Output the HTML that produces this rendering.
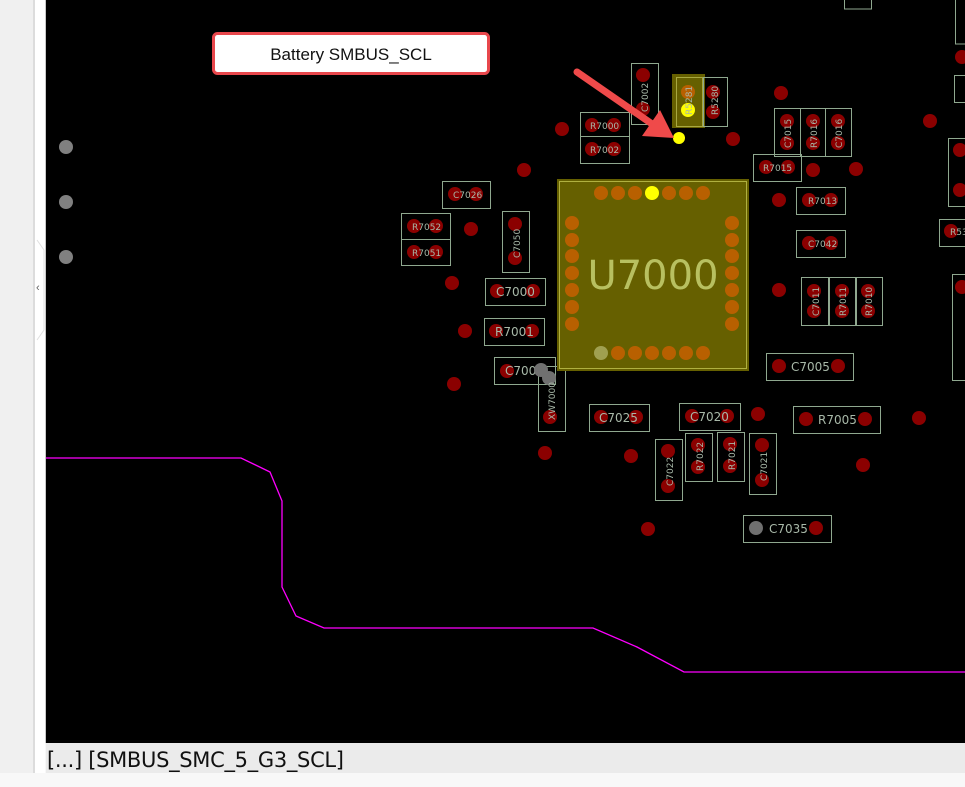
<!DOCTYPE html>
<html><head><meta charset="utf-8"><style>
html,body{margin:0;padding:0;width:965px;height:787px;overflow:hidden;background:#f8f8f8;font-family:"Liberation Sans",sans-serif}
svg{position:absolute;left:0;top:0}
.b{fill:none;stroke:#8fa88f;stroke-width:1}
.p{fill:#8b0000}
.o{fill:#b86000}
.t{fill:#a8b8a8;font-family:"DejaVu Sans","Liberation Sans",sans-serif;font-size:12px}
.s{fill:#a8b8a8;font-family:"DejaVu Sans","Liberation Sans",sans-serif;font-size:9px}
</style></head><body>
<svg width="965" height="787" viewBox="0 0 965 787">
<rect x="0" y="0" width="33" height="773" fill="#f0f0f0"/>
<rect x="33" y="0" width="2" height="773" fill="#dcdcdc"/>
<rect x="35" y="0" width="10" height="773" fill="#fff"/>
<rect x="45" y="0" width="1" height="743" fill="#c8c8c8"/>
<polyline points="37,240 44,250 44,330 37,340" fill="none" stroke="#e0e0e0"/>
<text x="36" y="291" font-size="11" fill="#606060">‹</text>
<rect x="46" y="0" width="919" height="743" fill="#000"/>
<rect x="46" y="743" width="919" height="30" fill="#ebebeb"/>
<rect x="0" y="773" width="965" height="14" fill="#f8f8f8"/>
<text x="47" y="767" font-size="21" fill="#111" font-family="'DejaVu Sans','Liberation Sans',sans-serif" textLength="297">[...] [SMBUS_SMC_5_G3_SCL]</text>

<polyline points="46,458 241,458 270,472 282,501 282,587 296,616 324,628 593,628 637,647 684,672 965,672" fill="none" stroke="#ff00ff" stroke-width="1.3"/>

<g fill="#808080"><circle cx="66" cy="147" r="7"/><circle cx="66" cy="202" r="7"/><circle cx="66" cy="257" r="7"/></g>

<g class="p">
<circle cx="562" cy="129" r="7"/><circle cx="733" cy="139" r="7"/><circle cx="781" cy="93" r="7"/><circle cx="524" cy="170" r="7"/>
<circle cx="471" cy="229" r="7"/><circle cx="452" cy="283" r="7"/><circle cx="465" cy="331" r="7"/><circle cx="454" cy="384" r="7"/>
<circle cx="545" cy="453" r="7"/><circle cx="631" cy="456" r="7"/><circle cx="648" cy="529" r="7"/><circle cx="758" cy="414" r="7"/>
<circle cx="863" cy="465" r="7"/><circle cx="919" cy="418" r="7"/><circle cx="856" cy="169" r="7"/><circle cx="779" cy="200" r="7"/>
<circle cx="779" cy="290" r="7"/><circle cx="930" cy="121" r="7"/><circle cx="813" cy="170" r="7"/><circle cx="960" cy="150" r="7"/><circle cx="960" cy="190" r="7"/><circle cx="962" cy="57" r="7"/>
</g>

<rect class="b" x="844.5" y="-1" width="27" height="10"/>
<rect class="b" x="955.5" y="-1" width="12" height="45"/>
<rect class="b" x="954.5" y="75.5" width="12" height="27"/>
<rect class="b" x="948.5" y="138.5" width="18" height="68"/>
<rect class="b" x="939.5" y="219.5" width="28" height="27"/><circle class="p" cx="951" cy="231" r="7"/><text class="s" x="950" y="235">R53</text>
<rect class="b" x="952.5" y="274.5" width="14" height="106"/><circle class="p" cx="962" cy="287" r="7"/>

<rect class="b" x="631.5" y="63.5" width="27" height="61"/><circle class="p" cx="643" cy="75" r="7"/><circle class="p" cx="643" cy="109" r="7"/>
<text class="s" transform="translate(648,112) rotate(-90)">C7002</text>
<rect x="672" y="74" width="33" height="54" fill="#666000"/><rect x="676.5" y="77.5" width="26" height="49" fill="none" stroke="#a8a840"/>
<circle class="o" cx="688" cy="92" r="7"/><circle cx="688" cy="110" r="7" fill="#ffff00"/>
<text class="s" transform="translate(692,115) rotate(-90)" fill="#c8c880">R5281</text>
<rect class="b" x="703.5" y="77.5" width="24" height="49"/><circle class="p" cx="713" cy="92" r="7"/><circle class="p" cx="713" cy="112" r="7"/>
<text class="s" transform="translate(718,115) rotate(-90)">R5280</text>

<rect class="b" x="580.5" y="112.5" width="49" height="24"/><circle class="p" cx="592" cy="125" r="7"/><circle class="p" cx="614" cy="125" r="7"/><text class="s" x="590" y="129">R7000</text>
<rect class="b" x="580.5" y="136.5" width="49" height="27"/><circle class="p" cx="592" cy="149" r="7"/><circle class="p" cx="614" cy="149" r="7"/><text class="s" x="590" y="153">R7002</text>

<rect class="b" x="774.5" y="108.5" width="26" height="48"/><circle class="p" cx="787" cy="121" r="7"/><circle class="p" cx="787" cy="143" r="7"/><text class="s" transform="translate(791,148) rotate(-90)">C7015</text>
<rect class="b" x="800.5" y="108.5" width="25" height="48"/><circle class="p" cx="813" cy="121" r="7"/><circle class="p" cx="813" cy="143" r="7"/><text class="s" transform="translate(817,148) rotate(-90)">R7016</text>
<rect class="b" x="825.5" y="108.5" width="26" height="48"/><circle class="p" cx="838" cy="121" r="7"/><circle class="p" cx="838" cy="143" r="7"/><text class="s" transform="translate(842,148) rotate(-90)">C7016</text>
<rect class="b" x="753.5" y="154.5" width="48" height="27"/><circle class="p" cx="766" cy="167" r="7"/><circle class="p" cx="788" cy="167" r="7"/><text class="s" x="763" y="171">R7015</text>
<rect class="b" x="796.5" y="187.5" width="49" height="27"/><circle class="p" cx="809" cy="200" r="7"/><circle class="p" cx="831" cy="200" r="7"/><text class="s" x="808" y="204">R7013</text>
<rect class="b" x="796.5" y="230.5" width="49" height="27"/><circle class="p" cx="809" cy="243" r="7"/><circle class="p" cx="831" cy="243" r="7"/><text class="s" x="808" y="247">C7042</text>

<rect class="b" x="442.5" y="181.5" width="48" height="27"/><circle class="p" cx="455" cy="194" r="7"/><circle class="p" cx="476" cy="194" r="7"/><text class="s" x="453" y="198">C7026</text>
<rect class="b" x="401.5" y="213.5" width="49" height="26"/><circle class="p" cx="414" cy="226" r="7"/><circle class="p" cx="436" cy="226" r="7"/><text class="s" x="412" y="230">R7052</text>
<rect class="b" x="401.5" y="239.5" width="49" height="26"/><circle class="p" cx="414" cy="252" r="7"/><circle class="p" cx="436" cy="252" r="7"/><text class="s" x="412" y="256">R7051</text>
<rect class="b" x="502.5" y="211.5" width="27" height="61"/><circle class="p" cx="515" cy="224" r="7"/><circle class="p" cx="515" cy="258" r="7"/><text class="s" transform="translate(520,258) rotate(-90)">C7050</text>

<rect class="b" x="485.5" y="278.5" width="60" height="27"/><circle class="p" cx="497" cy="291" r="7"/><circle class="p" cx="533" cy="291" r="7"/><text class="t" x="496" y="296">C7000</text>
<rect class="b" x="484.5" y="318.5" width="60" height="27"/><circle class="p" cx="496" cy="331" r="7"/><circle class="p" cx="532" cy="331" r="7"/><text class="t" x="495" y="336">R7001</text>
<rect class="b" x="494.5" y="357.5" width="61" height="27"/><circle class="p" cx="507" cy="371" r="7"/><text class="t" x="505" y="375">C7001</text>
<rect class="b" x="538.5" y="366.5" width="27" height="65"/><circle class="p" cx="550" cy="417" r="7"/>
<circle cx="541" cy="370" r="7" fill="#707070"/><circle cx="549" cy="378" r="7" fill="#707070"/>
<text class="s" transform="translate(555,420) rotate(-90)">XW7000</text>

<rect x="557" y="179" width="192" height="192" fill="#666000"/>
<rect x="559.5" y="181.5" width="187" height="187" fill="none" stroke="#b0b040"/>
<g class="o">
<circle cx="601" cy="193" r="7"/><circle cx="618" cy="193" r="7"/><circle cx="635" cy="193" r="7"/><circle cx="669" cy="193" r="7"/><circle cx="686" cy="193" r="7"/><circle cx="703" cy="193" r="7"/>
<circle cx="618" cy="353" r="7"/><circle cx="635" cy="353" r="7"/><circle cx="652" cy="353" r="7"/><circle cx="669" cy="353" r="7"/><circle cx="686" cy="353" r="7"/><circle cx="703" cy="353" r="7"/>
<circle cx="572" cy="223" r="7"/><circle cx="572" cy="240" r="7"/><circle cx="572" cy="256" r="7"/><circle cx="572" cy="273" r="7"/><circle cx="572" cy="290" r="7"/><circle cx="572" cy="307" r="7"/><circle cx="572" cy="324" r="7"/>
<circle cx="732" cy="223" r="7"/><circle cx="732" cy="240" r="7"/><circle cx="732" cy="256" r="7"/><circle cx="732" cy="273" r="7"/><circle cx="732" cy="290" r="7"/><circle cx="732" cy="307" r="7"/><circle cx="732" cy="324" r="7"/>
</g>
<circle cx="652" cy="193" r="7" fill="#ffff00"/>
<circle cx="601" cy="353" r="7" fill="#a0a050"/>
<text x="653" y="289" text-anchor="middle" font-size="40" fill="#b8c060" font-family="'DejaVu Sans','Liberation Sans',sans-serif">U7000</text>

<rect class="b" x="801.5" y="277.5" width="27" height="48"/><circle class="p" cx="814" cy="291" r="7"/><circle class="p" cx="814" cy="311" r="7"/><text class="s" transform="translate(819,316) rotate(-90)">C7011</text>
<rect class="b" x="829.5" y="277.5" width="26" height="48"/><circle class="p" cx="842" cy="291" r="7"/><circle class="p" cx="842" cy="311" r="7"/><text class="s" transform="translate(846,316) rotate(-90)">R7011</text>
<rect class="b" x="856.5" y="277.5" width="26" height="48"/><circle class="p" cx="868" cy="291" r="7"/><circle class="p" cx="868" cy="311" r="7"/><text class="s" transform="translate(872,316) rotate(-90)">R7010</text>

<rect class="b" x="766.5" y="353.5" width="87" height="27"/><circle class="p" cx="779" cy="366" r="7"/><circle class="p" cx="838" cy="366" r="7"/><text class="t" x="791" y="371">C7005</text>
<rect class="b" x="793.5" y="406.5" width="87" height="27"/><circle class="p" cx="806" cy="419" r="7"/><circle class="p" cx="865" cy="419" r="7"/><text class="t" x="818" y="424">R7005</text>
<rect class="b" x="589.5" y="404.5" width="60" height="27"/><circle class="p" cx="601" cy="417" r="7"/><circle class="p" cx="636" cy="417" r="7"/><text class="t" x="599" y="422">C7025</text>
<rect class="b" x="679.5" y="403.5" width="61" height="27"/><circle class="p" cx="692" cy="416" r="7"/><circle class="p" cx="727" cy="416" r="7"/><text class="t" x="690" y="421">C7020</text>
<rect class="b" x="655.5" y="439.5" width="27" height="61"/><circle class="p" cx="668" cy="451" r="7"/><circle class="p" cx="668" cy="486" r="7"/><text class="s" transform="translate(673,486) rotate(-90)">C7022</text>
<rect class="b" x="685.5" y="433.5" width="27" height="48"/><circle class="p" cx="698" cy="445" r="7"/><circle class="p" cx="698" cy="467" r="7"/><text class="s" transform="translate(703,471) rotate(-90)">R7022</text>
<rect class="b" x="717.5" y="432.5" width="27" height="49"/><circle class="p" cx="730" cy="444" r="7"/><circle class="p" cx="730" cy="466" r="7"/><text class="s" transform="translate(735,470) rotate(-90)">R7021</text>
<rect class="b" x="749.5" y="433.5" width="27" height="61"/><circle class="p" cx="762" cy="445" r="7"/><circle class="p" cx="762" cy="480" r="7"/><text class="s" transform="translate(767,481) rotate(-90)">C7021</text>
<rect class="b" x="743.5" y="515.5" width="88" height="27"/><circle cx="756" cy="528" r="7" fill="#707070"/><circle class="p" cx="816" cy="528" r="7"/><text class="t" x="769" y="533">C7035</text>

<circle cx="679" cy="138" r="6" fill="#ffff00"/>
<line x1="577" y1="72" x2="655" y2="126" stroke="#ef4a4a" stroke-width="7" stroke-linecap="round"/>
<polygon points="674,138 642,136 660,110" fill="#ef4a4a"/>

<rect x="213.5" y="33.5" width="275" height="40" rx="4" fill="#fff" stroke="#e8474c" stroke-width="3"/>
<text x="351" y="60" text-anchor="middle" font-size="17" fill="#111">Battery SMBUS_SCL</text>
</svg>
</body></html>
